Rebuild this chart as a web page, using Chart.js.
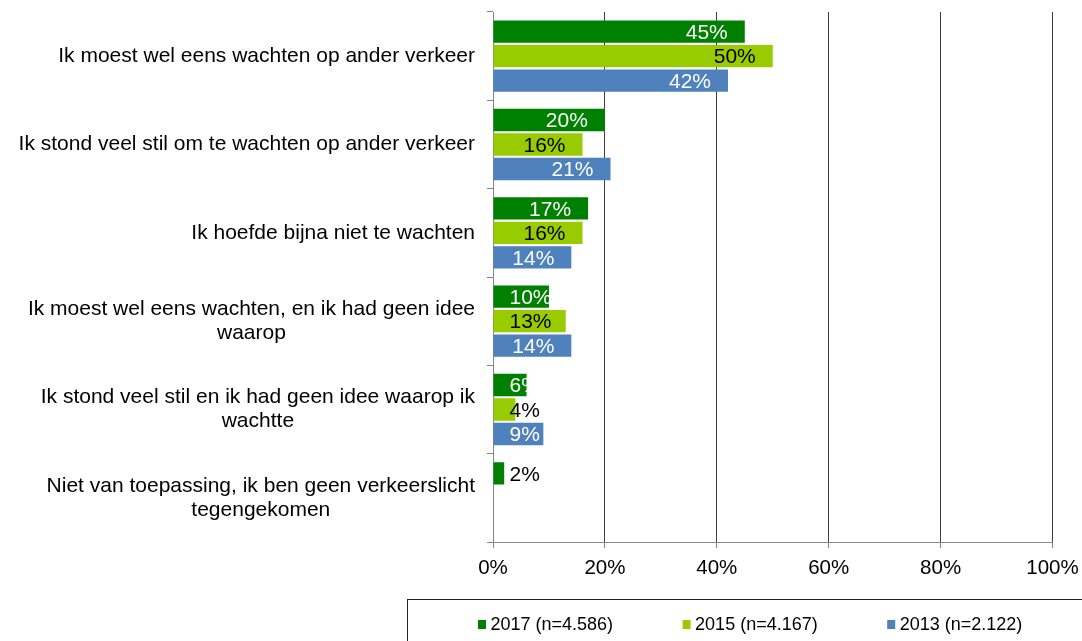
<!DOCTYPE html>
<html><head><meta charset="utf-8">
<script src="https://cdn.jsdelivr.net/npm/chart.js@4/dist/chart.umd.min.js"></script>
<style>html,body{margin:0;padding:0;background:#fff}#wrap{width:1082px;height:641px;position:relative}</style>
</head><body><div id="wrap"><canvas id="c"></canvas></div>
<script>
const categories = [
  ["Ik moest wel eens wachten op ander verkeer"],
  ["Ik stond veel stil om te wachten op ander verkeer"],
  ["Ik hoefde bijna niet te wachten"],
  ["Ik moest wel eens wachten, en ik had geen idee", "waarop"],
  ["Ik stond veel stil en ik had geen idee waarop ik", "wachtte"],
  ["Niet van toepassing, ik ben geen verkeerslicht", "tegengekomen"]
];
const seriesLabels = ["2017 (n=4.586)", "2015 (n=4.167)", "2013 (n=2.122)"];
const values2017 = [45, 20, 17, 10, 6, 2];
const values2015 = [50, 16, 16, 13, 4, null];
const values2013 = [42, 21, 14, 14, 9, null];
const xTickValues = [0, 20, 40, 60, 80, 100];

const FONT = '"Liberation Sans", Arial, sans-serif';
const AXIS = '#868686';
const GRID = '#404040';

const textPlugin = {
  id: 'customText',
  afterDatasetsDraw(chart) {
    const ctx = chart.ctx;
    ctx.save();
    ctx.font = '21px ' + FONT;
    ctx.textBaseline = 'middle';
    ctx.textAlign = 'left';
    chart.data.datasets.forEach((ds, di) => {
      const meta = chart.getDatasetMeta(di);
      meta.data.forEach((bar, i) => {
        const v = ds.data[i];
        if (v == null) return;
        const t = v + '%';
        const w = ctx.measureText(t).width;
        const left = Math.max(bar.x - 17 - w, bar.base + 16);
        ctx.fillStyle = ds.labelColors[i];
        ctx.fillText(t, left, bar.y + 1.5);
      });
    });
    ctx.restore();
  },
  afterDraw(chart) {
    const ctx = chart.ctx;
    const ys = chart.scales.y;
    ctx.save();
    ctx.font = '21px ' + FONT;
    ctx.textBaseline = 'middle';
    ctx.textAlign = 'center';
    ctx.fillStyle = '#000';
    const rightEdge = chart.chartArea.left - 18;
    categories.forEach((lines, i) => {
      const cy = ys.getPixelForValue(i);
      const lh = 24;
      const maxW = Math.max(...lines.map(l => ctx.measureText(l).width));
      const cx = rightEdge - maxW / 2;
      lines.forEach((l, k) => ctx.fillText(l, cx, cy + (k - (lines.length - 1) / 2) * lh));
    });
    // legend
    ctx.strokeStyle = '#222';
    ctx.lineWidth = 1;
    ctx.strokeRect(407.5, 599.5, 800, 100);
    ctx.font = '18px ' + FONT;
    ctx.textAlign = 'left';
    let x = 478;
    chart.data.datasets.forEach(ds => {
      ctx.fillStyle = ds.backgroundColor;
      ctx.fillRect(x, 620, 8, 9);
      ctx.fillStyle = '#000';
      ctx.fillText(ds.label, x + 12.5, 625);
      x += 12.5 + ctx.measureText(ds.label).width + 69.5;
    });
    ctx.restore();
  }
};

new Chart(document.getElementById('c'), {
  type: 'bar',
  data: {
    labels: categories,
    datasets: [
      { label: seriesLabels[0], data: values2017, backgroundColor: '#008000',
        labelColors: ['#fff', '#fff', '#fff', '#fff', '#fff', '#000'] },
      { label: seriesLabels[1], data: values2015, backgroundColor: '#99CC00',
        labelColors: ['#000', '#000', '#000', '#000', '#000', '#000'] },
      { label: seriesLabels[2], data: values2013, backgroundColor: '#4F81BD',
        labelColors: ['#fff', '#fff', '#fff', '#fff', '#fff', '#fff'] }
    ]
  },
  options: {
    indexAxis: 'y',
    responsive: true,
    maintainAspectRatio: false,
    animation: false,
    datasets: { bar: { barPercentage: 0.91, categoryPercentage: 0.832 } },
    layout: { padding: { top: 12, right: 29.5, left: 0, bottom: 0 } },
    plugins: { legend: { display: false }, tooltip: { enabled: false } },
    scales: {
      x: {
        min: 0, max: 100,
        afterBuildTicks: s => { s.ticks = xTickValues.map(v => ({ value: v })); },
        afterFit: s => { s.height = 99; s.paddingRight = 0; s.paddingLeft = 0; },
        ticks: { callback: v => v + '%', color: '#000', font: { family: FONT, size: 20.5 }, padding: 8, maxRotation: 0 },
        grid: { color: ctx => (ctx.tick && ctx.tick.value === 0) ? 'rgba(0,0,0,0)' : GRID, tickColor: AXIS, tickLength: 6, lineWidth: 1 },
        border: { display: true, color: AXIS, width: 1 }
      },
      y: {
        afterFit: s => { s.width = 493; s.paddingTop = 0; s.paddingBottom = 0; },
        ticks: { display: false },
        grid: { drawOnChartArea: false, drawTicks: true, tickLength: 6, color: AXIS, offset: true },
        border: { display: true, color: AXIS, width: 1 }
      }
    }
  },
  plugins: [textPlugin]
});
</script>
</body></html>
